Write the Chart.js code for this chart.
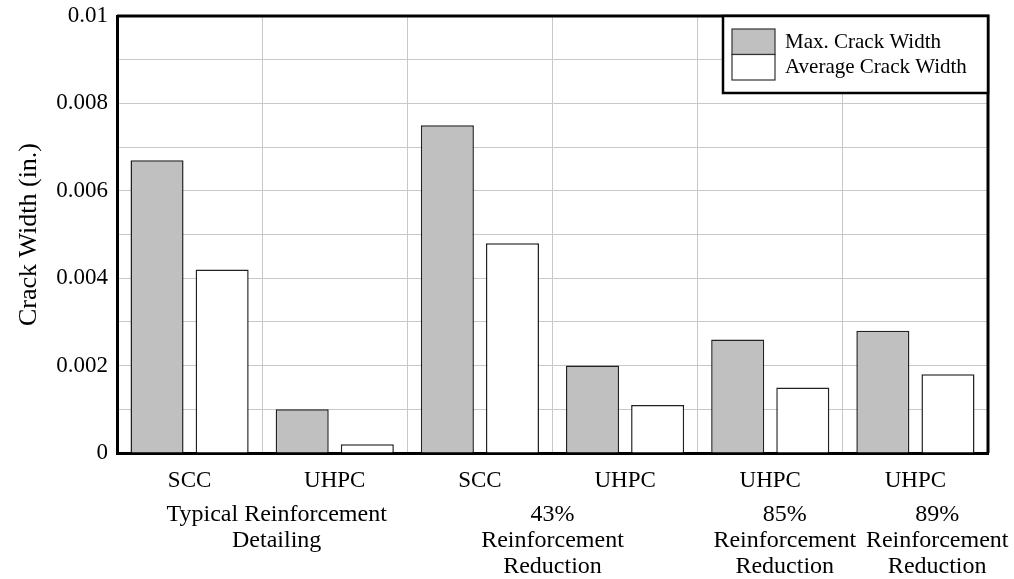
<!DOCTYPE html>
<html>
<head>
<meta charset="utf-8">
<script src="https://cdn.jsdelivr.net/npm/chart.js@4/dist/chart.umd.min.js"></script>
<style>
  html, body { margin: 0; padding: 0; background: #fff; }
  #wrap { width: 1014px; height: 579px; }
</style>
</head>
<body>
<div id="wrap"><canvas id="crack-chart" width="1014" height="579"></canvas></div>
<script>
const categories = ["SCC", "UHPC", "SCC", "UHPC", "UHPC", "UHPC"];
const maxCrack = [0.0067, 0.0010, 0.0075, 0.0020, 0.0026, 0.0028];
const avgCrack = [0.0042, 0.0002, 0.0048, 0.0011, 0.0015, 0.0018];
const groupLabels = [
    ["Typical Reinforcement", "Detailing"],
    ["43%", "Reinforcement", "Reduction"],
    ["85%", "Reinforcement", "Reduction"],
    ["89%", "Reinforcement", "Reduction"]
];
// where each group caption sits, in category units
const groupAt = [0.6, 2.5, 4.1, 5.15];

const serif = "'Liberation Serif', 'DejaVu Serif', serif";

// group captions under the category ticks
const groupCaptions = {
    id: 'groupCaptions',
    afterDraw(chart) {
        const ctx = chart.ctx;
        const x = chart.scales.x;
        const bottom = chart.chartArea.bottom;
        ctx.save();
        ctx.font = "24px " + serif;
        ctx.fillStyle = '#000';
        ctx.textAlign = 'center';
        ctx.textBaseline = 'middle';
        groupLabels.forEach((lines, g) => {
            const px = x.getPixelForValue(groupAt[g]);
            lines.forEach((t, i) => ctx.fillText(t, px, bottom + 62 + i * 26));
        });
        ctx.restore();
    }
};

// frame on top/right plus the boxed legend in the corner
const frameAndLegend = {
    id: 'frameAndLegend',
    afterDraw(chart) {
        const ctx = chart.ctx;
        const ca = chart.chartArea;
        ctx.save();
        ctx.strokeStyle = '#000';
        ctx.lineWidth = 3;
        ctx.beginPath();
        ctx.moveTo(ca.left, ca.top);
        ctx.lineTo(ca.right, ca.top);
        ctx.lineTo(ca.right, ca.bottom);
        ctx.stroke();

        const bx = ca.right - 265, by = ca.top, bw = 265, bh = 77;
        ctx.fillStyle = '#fff';
        ctx.fillRect(bx, by, bw, bh);
        ctx.lineWidth = 2.5;
        ctx.strokeRect(bx, by, bw, bh);

        ctx.font = "21px " + serif;
        ctx.textBaseline = 'middle';
        ctx.textAlign = 'left';
        chart.data.datasets.forEach((ds, i) => {
            const sy = by + 13 + i * 25.5;
            ctx.fillStyle = ds.backgroundColor;
            ctx.fillRect(bx + 9, sy, 43, 25.5);
            ctx.lineWidth = 1.2;
            ctx.strokeStyle = '#333';
            ctx.strokeRect(bx + 9, sy, 43, 25.5);
            ctx.fillStyle = '#000';
            ctx.fillText(ds.label, bx + 62, sy + 13);
        });
        ctx.restore();
    }
};

const crackCanvas = document.querySelector("#crack-chart").getContext('2d');

let crackChart = new Chart(crackCanvas, {
    type: 'bar',
    data: {
        labels: categories,
        datasets: [
            {
                label: "Max. Crack Width",
                data: maxCrack,
                backgroundColor: '#c0c0c0',
                borderColor: '#222',
                borderWidth: 1.5,
                borderSkipped: 'bottom'
            },
            {
                label: "Average Crack Width",
                data: avgCrack,
                backgroundColor: '#ffffff',
                borderColor: '#222',
                borderWidth: 1.5,
                borderSkipped: 'bottom'
            }
        ]
    },
    options: {
        responsive: false,
        animation: { duration: 0 },
        categoryPercentage: 0.897,
        barPercentage: 0.815,
        layout: {
            padding: { top: 16, right: 26, left: 0, bottom: 0 }
        },
        plugins: {
            legend: { display: false },
            title: { display: false },
            tooltip: { enabled: false }
        },
        scales: {
            x: {
                grid: { color: '#c8c8c8', lineWidth: 1, drawTicks: false, offset: true },
                border: { color: '#000', width: 3 },
                ticks: {
                    color: '#000',
                    font: { family: serif, size: 23 },
                    padding: 14,
                    maxRotation: 0
                },
                afterFit(scale) {
                    scale.height = 126;
                    scale.paddingLeft = 0;
                    scale.paddingRight = 0;
                }
            },
            y: {
                min: 0,
                max: 0.01,
                grid: { color: '#c8c8c8', lineWidth: 1, drawTicks: false },
                border: { color: '#000', width: 3 },
                ticks: {
                    stepSize: 0.001,
                    color: '#000',
                    font: { family: serif, size: 23 },
                    padding: 9,
                    callback: v => {
                        const k = Math.round(v * 1000);
                        return k % 2 === 0 ? String(+(k / 1000).toFixed(3)) : '';
                    }
                },
                title: {
                    display: true,
                    text: "Crack Width (in.)",
                    color: '#000',
                    font: { family: serif, size: 26 },
                    padding: { top: 14, bottom: 0 }
                },
                afterFit(scale) {
                    scale.width = 117;
                    scale.paddingTop = 0;
                    scale.paddingBottom = 0;
                }
            }
        }
    },
    plugins: [groupCaptions, frameAndLegend]
});
</script>
</body>
</html>
